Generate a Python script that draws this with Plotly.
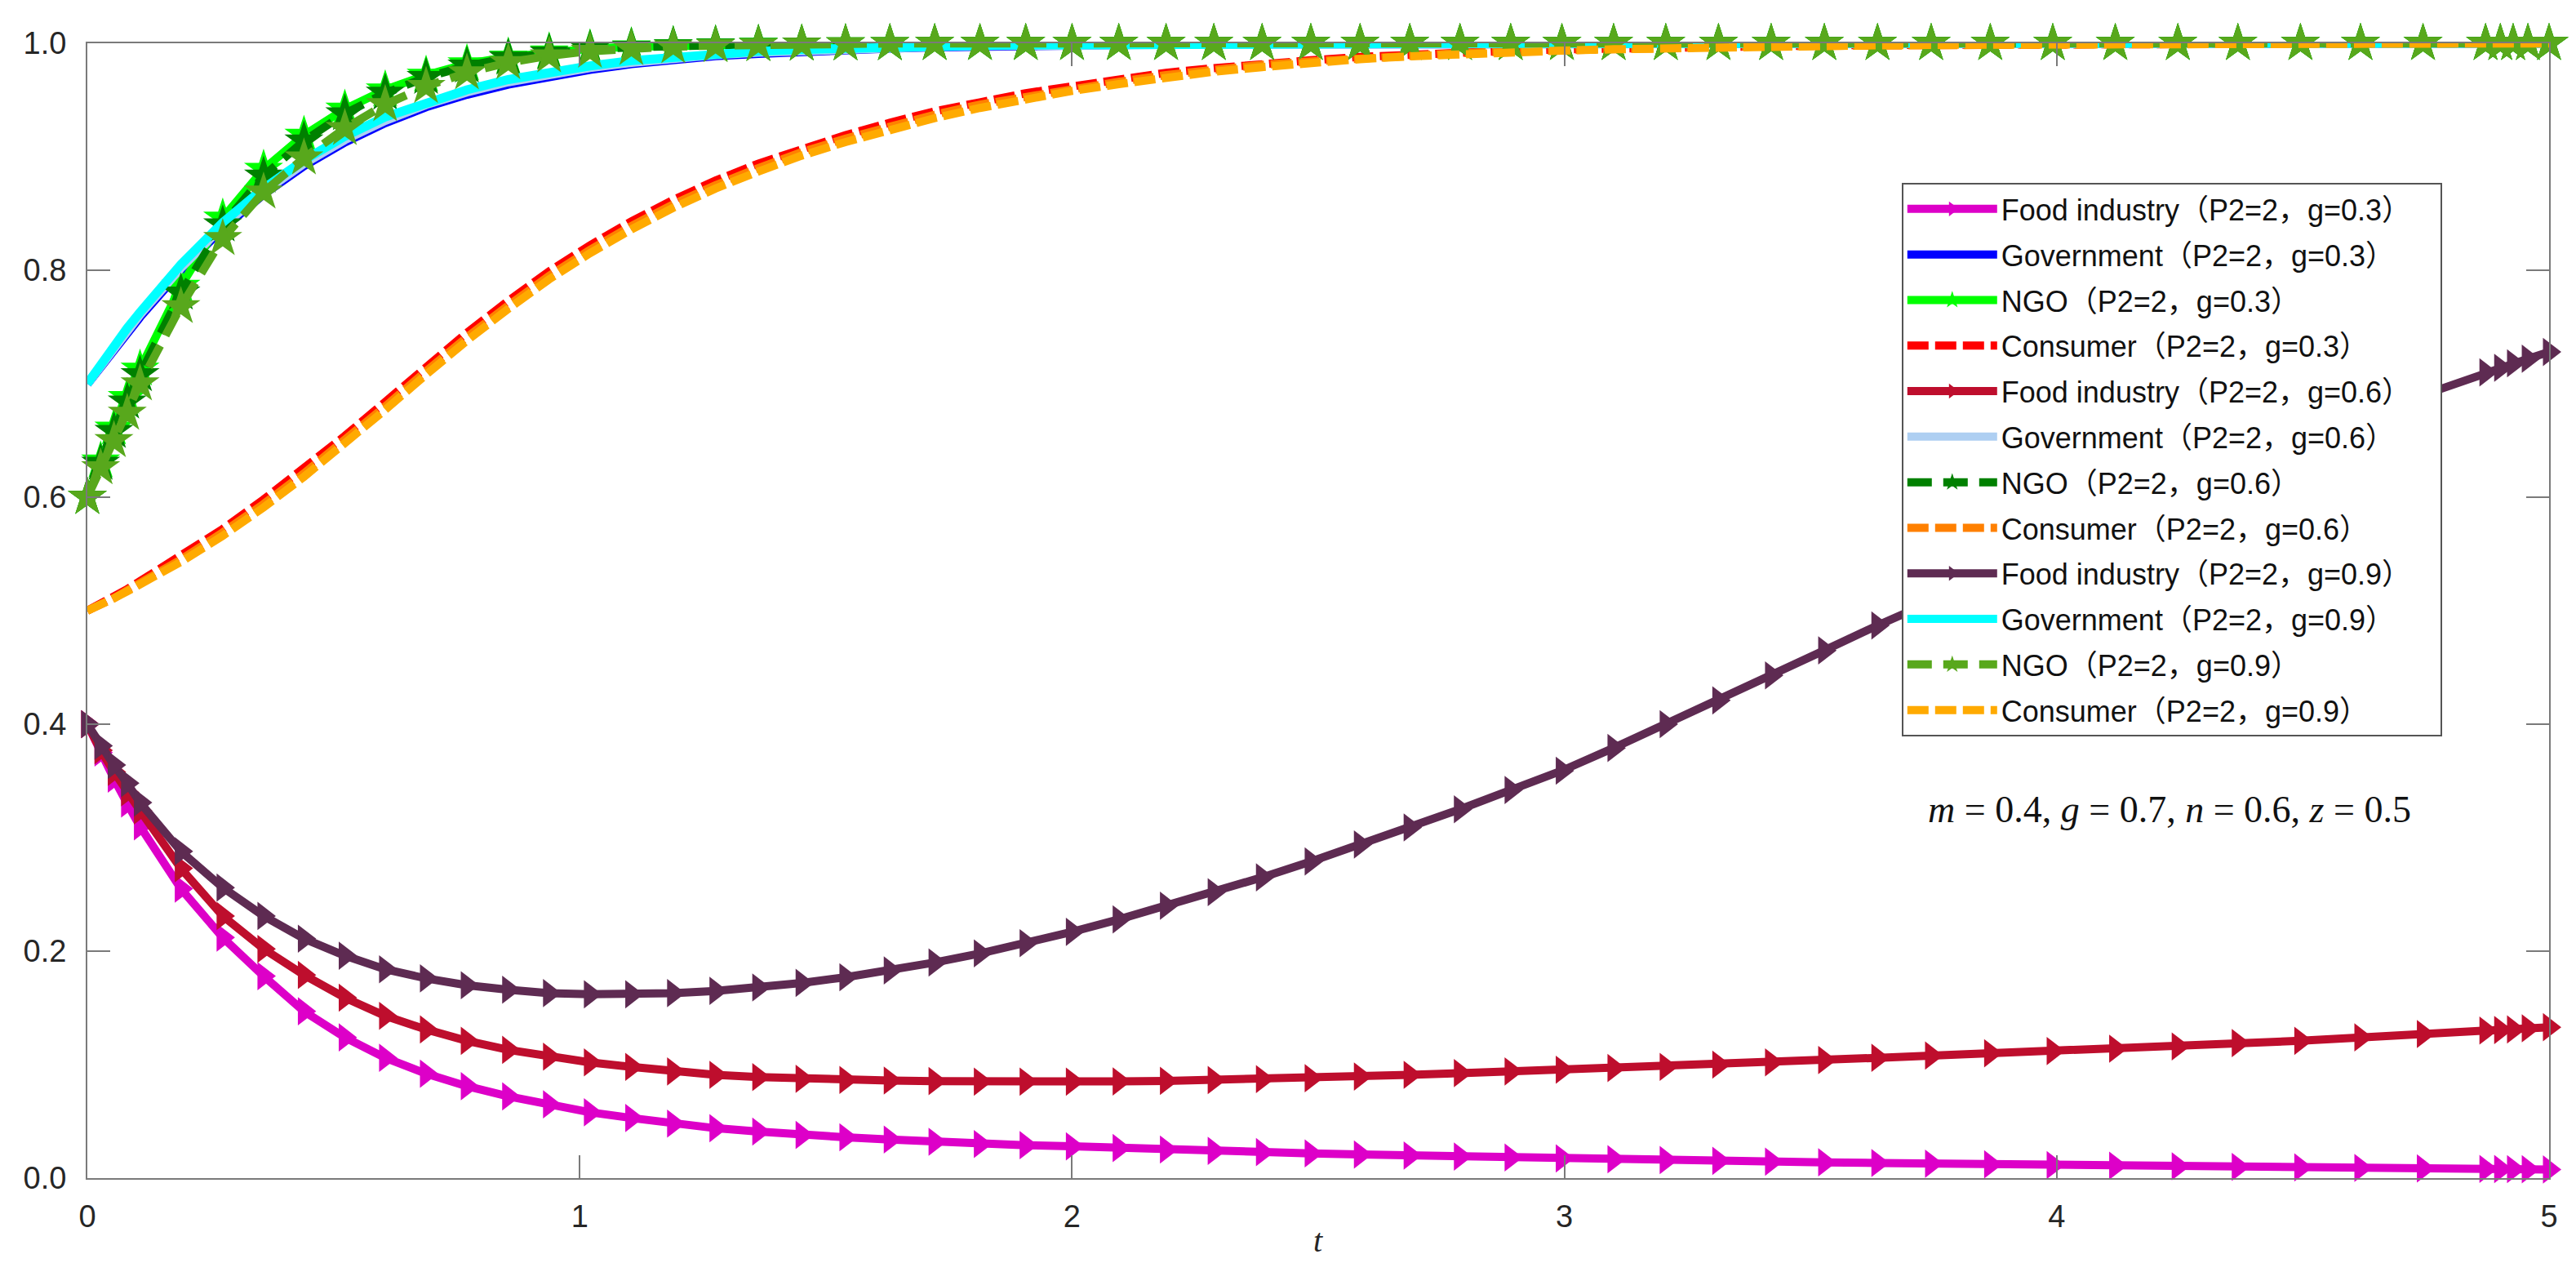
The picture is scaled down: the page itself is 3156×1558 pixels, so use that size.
import plotly.graph_objects as go

# ---------------- data ----------------
T = [0, 0.027, 0.054, 0.081, 0.107, 0.19, 0.275, 0.358, 0.44, 0.523,
     0.605, 0.688, 0.771, 0.855, 0.938, 1.021, 1.105, 1.19, 1.276, 1.363,
     1.451, 1.54, 1.63, 1.721, 1.813, 1.906, 2.0, 2.095, 2.191, 2.288,
     2.386, 2.485, 2.585, 2.686, 2.788, 2.891, 2.995, 3.1, 3.206, 3.313,
     3.42, 3.528, 3.636, 3.745, 3.865, 3.992, 4.119, 4.246, 4.368, 4.495,
     4.617, 4.744, 4.871, 4.901, 4.927, 4.957, 5.0]

food_03 = [0.400, 0.375, 0.352, 0.330, 0.310, 0.255, 0.212, 0.178, 0.147, 0.124,
           0.106, 0.092, 0.081, 0.072, 0.065, 0.058, 0.053, 0.048, 0.044, 0.041,
           0.038, 0.036, 0.034, 0.032, 0.030, 0.029, 0.028, 0.0265, 0.0252, 0.0240,
           0.0229, 0.0218, 0.0208, 0.0199, 0.0190, 0.0182, 0.0174, 0.0166, 0.0159, 0.0152,
           0.0145, 0.0139, 0.0133, 0.0127, 0.0121, 0.0115, 0.0110, 0.0104, 0.0099, 0.0094,
           0.0090, 0.0085, 0.0081, 0.0080, 0.0079, 0.0078, 0.0076]
gov_03 = [0.700, 0.715, 0.730, 0.745, 0.759, 0.800, 0.837, 0.867, 0.892, 0.913,
          0.930, 0.944, 0.955, 0.964, 0.971, 0.977, 0.982, 0.986, 0.989, 0.991,
          0.993, 0.9945, 0.9957, 0.9967, 0.9975, 0.9981, 0.9985, 0.9989, 0.9992, 0.9994,
          0.9995, 0.9996, 0.9997, 0.9998, 0.9998, 0.9999, 0.9999, 0.9999, 1.0, 1.0,
          1.0, 1.0, 1.0, 1.0, 1.0, 1.0, 1.0, 1.0, 1.0, 1.0,
          1.0, 1.0, 1.0, 1.0, 1.0, 1.0, 1.0]
ngo_03 = [0.600, 0.632, 0.661, 0.688, 0.713, 0.786, 0.846, 0.889, 0.919, 0.942,
          0.959, 0.972, 0.982, 0.988, 0.9925, 0.9952, 0.997, 0.998, 0.9987, 0.9992,
          0.9995, 0.9997, 0.9998, 0.9999, 0.9999, 1.0, 1.0, 1.0, 1.0, 1.0,
          1.0, 1.0, 1.0, 1.0, 1.0, 1.0, 1.0, 1.0, 1.0, 1.0,
          1.0, 1.0, 1.0, 1.0, 1.0, 1.0, 1.0, 1.0, 1.0, 1.0,
          1.0, 1.0, 1.0, 1.0, 1.0, 1.0, 1.0]
cons_03 = [0.500, 0.506, 0.512, 0.519, 0.526, 0.548, 0.572, 0.598, 0.625, 0.654,
           0.684, 0.715, 0.745, 0.773, 0.799, 0.822, 0.843, 0.862, 0.879, 0.894,
           0.907, 0.919, 0.930, 0.940, 0.948, 0.956, 0.962, 0.968, 0.974, 0.978,
           0.982, 0.985, 0.988, 0.9903, 0.992, 0.9934, 0.9946, 0.9956, 0.9964, 0.9971,
           0.9976, 0.9981, 0.9985, 0.9988, 0.9991, 0.9993, 0.9994, 0.9995, 0.9996, 0.9997,
           0.9998, 0.9998, 0.9999, 0.9999, 0.9999, 0.9999, 0.9999]

food_06 = [0.400, 0.377, 0.358, 0.340, 0.324, 0.273, 0.231, 0.202, 0.179, 0.159,
           0.143, 0.131, 0.121, 0.113, 0.107, 0.102, 0.098, 0.094, 0.091, 0.089,
           0.0875, 0.0865, 0.086, 0.0855, 0.085, 0.085, 0.085, 0.0852, 0.0857, 0.0864,
           0.0872, 0.088, 0.0895, 0.091, 0.0925, 0.094, 0.0955, 0.097, 0.098, 0.100,
           0.102, 0.104, 0.106, 0.108, 0.110, 0.112, 0.114, 0.116, 0.119, 0.121,
           0.124, 0.127, 0.130, 0.1305, 0.131, 0.132, 0.133]
gov_06 = [0.700, 0.716, 0.731, 0.747, 0.761, 0.802, 0.839, 0.869, 0.894, 0.915,
          0.932, 0.946, 0.957, 0.966, 0.973, 0.9785, 0.983, 0.987, 0.990, 0.992,
          0.9937, 0.9951, 0.9962, 0.9971, 0.9978, 0.9983, 0.9987, 0.9990, 0.9993, 0.9994,
          0.9995, 0.9996, 0.9997, 0.9998, 0.9998, 0.9999, 0.9999, 0.9999, 1.0, 1.0,
          1.0, 1.0, 1.0, 1.0, 1.0, 1.0, 1.0, 1.0, 1.0, 1.0,
          1.0, 1.0, 1.0, 1.0, 1.0, 1.0, 1.0]
ngo_06 = [0.600, 0.630, 0.658, 0.684, 0.708, 0.780, 0.840, 0.883, 0.914, 0.938,
          0.956, 0.970, 0.980, 0.987, 0.9915, 0.9945, 0.9965, 0.9978, 0.9986, 0.9991,
          0.9994, 0.9996, 0.9998, 0.9999, 0.9999, 1.0, 1.0, 1.0, 1.0, 1.0,
          1.0, 1.0, 1.0, 1.0, 1.0, 1.0, 1.0, 1.0, 1.0, 1.0,
          1.0, 1.0, 1.0, 1.0, 1.0, 1.0, 1.0, 1.0, 1.0, 1.0,
          1.0, 1.0, 1.0, 1.0, 1.0, 1.0, 1.0]
cons_06 = [0.500, 0.505, 0.511, 0.518, 0.524, 0.545, 0.569, 0.594, 0.621, 0.650,
           0.680, 0.711, 0.741, 0.769, 0.795, 0.818, 0.839, 0.858, 0.875, 0.890,
           0.904, 0.916, 0.927, 0.937, 0.946, 0.953, 0.960, 0.966, 0.972, 0.977,
           0.981, 0.984, 0.987, 0.9895, 0.9913, 0.9928, 0.9941, 0.9952, 0.9961, 0.9968,
           0.9974, 0.9979, 0.9983, 0.9987, 0.9990, 0.9992, 0.9994, 0.9995, 0.9996, 0.9997,
           0.9998, 0.9998, 0.9998, 0.9999, 0.9999, 0.9999, 0.9999]

food_09 = [0.400, 0.381, 0.364, 0.348, 0.331, 0.288, 0.256, 0.231, 0.211, 0.196,
           0.184, 0.176, 0.170, 0.166, 0.163, 0.162, 0.162, 0.163, 0.165, 0.168,
           0.172, 0.177, 0.183, 0.190, 0.198, 0.207, 0.217, 0.228, 0.240, 0.252,
           0.265, 0.279, 0.294, 0.309, 0.325, 0.342, 0.359, 0.379, 0.400, 0.421,
           0.443, 0.465, 0.487, 0.508, 0.531, 0.555, 0.578, 0.605, 0.627, 0.649,
           0.670, 0.690, 0.710, 0.714, 0.718, 0.722, 0.728]
gov_09 = [0.700, 0.717, 0.733, 0.749, 0.763, 0.805, 0.842, 0.872, 0.897, 0.918,
          0.935, 0.948, 0.959, 0.968, 0.975, 0.980, 0.9847, 0.988, 0.9907, 0.9929,
          0.9945, 0.9958, 0.9968, 0.9976, 0.9981, 0.9986, 0.9989, 0.9992, 0.9994, 0.9995,
          0.9996, 0.9997, 0.9998, 0.9998, 0.9999, 0.9999, 0.9999, 1.0, 1.0, 1.0,
          1.0, 1.0, 1.0, 1.0, 1.0, 1.0, 1.0, 1.0, 1.0, 1.0,
          1.0, 1.0, 1.0, 1.0, 1.0, 1.0, 1.0]
ngo_09 = [0.600, 0.626, 0.650, 0.674, 0.700, 0.768, 0.828, 0.869, 0.899, 0.925,
          0.946, 0.962, 0.974, 0.983, 0.989, 0.993, 0.9955, 0.997, 0.998, 0.9988,
          0.9993, 0.9996, 0.9998, 0.9999, 0.9999, 1.0, 1.0, 1.0, 1.0, 1.0,
          1.0, 1.0, 1.0, 1.0, 1.0, 1.0, 1.0, 1.0, 1.0, 1.0,
          1.0, 1.0, 1.0, 1.0, 1.0, 1.0, 1.0, 1.0, 1.0, 1.0,
          1.0, 1.0, 1.0, 1.0, 1.0, 1.0, 1.0]
cons_09 = [0.500, 0.505, 0.511, 0.517, 0.523, 0.543, 0.566, 0.591, 0.618, 0.647,
           0.677, 0.708, 0.738, 0.766, 0.792, 0.815, 0.836, 0.855, 0.872, 0.887,
           0.901, 0.913, 0.924, 0.934, 0.943, 0.951, 0.958, 0.964, 0.970, 0.975,
           0.979, 0.983, 0.986, 0.9885, 0.9905, 0.992, 0.9935, 0.9947, 0.9957, 0.9965,
           0.9972, 0.9978, 0.9982, 0.9986, 0.9989, 0.9991, 0.9993, 0.9995, 0.9996, 0.9997,
           0.9997, 0.9998, 0.9998, 0.9999, 0.9999, 0.9999, 0.9999]

labels = [
    "Food industry（P2=2，g=0.3）", "Government（P2=2，g=0.3）",
    "NGO（P2=2，g=0.3）", "Consumer（P2=2，g=0.3）",
    "Food industry（P2=2，g=0.6）", "Government（P2=2，g=0.6）",
    "NGO（P2=2，g=0.6）", "Consumer（P2=2，g=0.6）",
    "Food industry（P2=2，g=0.9）", "Government（P2=2，g=0.9）",
    "NGO（P2=2，g=0.9）", "Consumer（P2=2，g=0.9）",
]
series = [food_03, gov_03, ngo_03, cons_03,
          food_06, gov_06, ngo_06, cons_06,
          food_09, gov_09, ngo_09, cons_09]
kinds = ["food", "gov", "ngo_solid", "cons",
         "food", "gov", "ngo_dash", "cons",
         "food", "gov", "ngo_dash", "cons"]
colors = ["#DD00C8", "#0000FF", "#00FF00", "#FF0000",
          "#BE0E2D", "#AECFF2", "#008000", "#FF8000",
          "#5E2B52", "#00FFFF", "#58A81C", "#FFAA00"]

for s in series:
    assert len(s) == len(T), len(s)

# invisible tail that widens the legend box to match the reference padding
PAD = "<span style='color:rgba(0,0,0,0)'>_.</span>"

fig = go.Figure()
for lab, ys, kind, col in zip(labels, series, kinds, colors):
    width = 10
    if kind == "food":
        mode, dash, sym = "lines+markers", "solid", "triangle-right"
        msize = 30
    elif kind == "gov":
        mode, dash, sym = "lines", "solid", None
        msize = 0
        width = 11
    elif kind == "ngo_solid":
        mode, dash, sym = "lines+markers", "solid", "star"
        msize = 36
    elif kind == "ngo_dash":
        mode, dash, sym = "lines+markers", "30px,14px", "star"
        msize = 36
    else:
        mode, dash, sym = "lines", "26px,8px", None
        msize = 0
    marker = dict(color=col, size=msize, line=dict(width=0))
    if sym:
        marker["symbol"] = sym
    fig.add_trace(go.Scatter(
        x=T, y=ys, name=lab + PAD, mode=mode,
        line=dict(color=col, width=width, dash=dash),
        marker=marker, cliponaxis=False, legendgroup=lab,
    ))

axis_common = dict(
    showgrid=False, zeroline=False, showline=True, linecolor="#7a7a7a", linewidth=2,
    mirror="ticks", ticks="inside", ticklen=28, tickwidth=2, tickcolor="#7a7a7a",
    tickfont=dict(family="Liberation Sans, Arial, sans-serif", size=38, color="#262626"),
)
fig.update_xaxes(range=[0, 5], tickvals=[0, 1, 2, 3, 4, 5], ticktext=["0", "1", "2", "3", "4", "5"],
                 ticklabelstandoff=12, **axis_common)
fig.update_yaxes(range=[0, 1], tickvals=[0, 0.2, 0.4, 0.6, 0.8, 1.0],
                 ticktext=["0.0", "0.2", "0.4", "0.6", "0.8", "1.0"],
                 ticklabelstandoff=16, **axis_common)

fig.add_annotation(x=0.5, y=-0.055, xref="paper", yref="paper", showarrow=False,
                   text="<i>t</i>", yanchor="middle",
                   font=dict(family="Liberation Serif, DejaVu Serif, serif", size=40, color="#262626"))
fig.add_annotation(x=0.8457, y=0.3247, xref="paper", yref="paper", showarrow=False,
                   text="<i>m</i> = 0.4, <i>g</i> = 0.7, <i>n</i> = 0.6, <i>z</i> = 0.5",
                   xanchor="center", yanchor="middle",
                   font=dict(family="Liberation Serif, DejaVu Serif, serif", size=46, color="#111111"))

# the page body has an 8px margin, so the figure is sized to fit inside the window
fig.update_layout(
    width=3140, height=1542,
    margin=dict(l=99, r=25, t=45, b=107),
    paper_bgcolor="white", plot_bgcolor="white",
    showlegend=True,
    legend=dict(
        x=0.737, y=0.877, xanchor="left", yanchor="top",
        bgcolor="white", bordercolor="#555555", borderwidth=2,
        font=dict(family="Liberation Sans, Arial, Noto Sans CJK SC, sans-serif", size=36, color="#111111"),
        itemwidth=110, tracegroupgap=6, itemsizing="trace",
    ),
)

fig.write_html("out.html")
